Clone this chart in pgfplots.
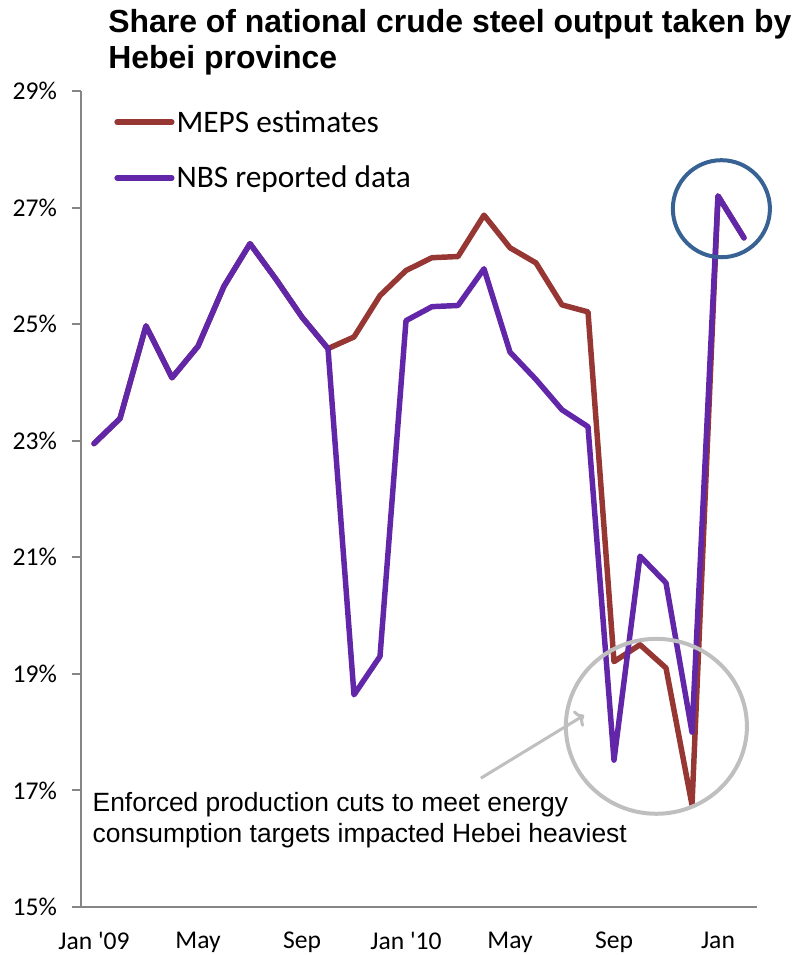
\documentclass[border=0pt]{standalone}
\usepackage{fontspec}
\usepackage{pgfplots}
\pgfplotsset{compat=1.18}
\usetikzlibrary{arrows.meta}
\setmainfont{Liberation Sans}
\newfontfamily\carlito{Carlito}
\newcommand\tickfont{\carlito\fontsize{19.2}{22}\selectfont}
\definecolor{mepsred}{RGB}{150,55,52}
\definecolor{nbspurple}{RGB}{98,38,168}
\definecolor{axisgray}{RGB}{134,134,134}
\definecolor{ringblue}{RGB}{56,98,148}
\definecolor{ringgray}{RGB}{191,191,191}

% Monthly share (%) of national crude steel output, Jan 2009 = 0 ... Feb 2011 = 25
\pgfplotstableread{
m   share
0   22.95
1   23.38
2   24.97
3   24.08
4   24.62
5   25.65
6   26.38
7   25.77
8   25.12
9   24.58
10  24.78
11  25.49
12  25.92
13  26.14
14  26.16
15  26.87
16  26.31
17  26.05
18  25.33
19  25.21
20  19.21
21  19.50
22  19.10
23  16.75
24  27.20
25  26.48
}\meps
\pgfplotstableread{
m   share
0   22.95
1   23.38
2   24.97
3   24.08
4   24.62
5   25.65
6   26.38
7   25.77
8   25.12
9   24.58
10  18.64
11  19.30
12  25.06
13  25.30
14  25.32
15  25.95
16  24.52
17  24.05
18  23.53
19  23.24
20  17.52
21  21.02
22  20.56
23  18.00
24  27.20
25  26.48
}\nbs

\begin{document}
\begin{tikzpicture}
\begin{axis}[
  name=ax,
  scale only axis, width=507pt, height=612pt,
  xmin=-0.5, xmax=25.5, ymin=15, ymax=29,
  axis lines=left,
  axis line style={axisgray, line width=1.5pt, -},
  tick align=outside,
  xtick={0,4,...,24},
  xticklabels={Jan '09, May, Sep, Jan '10, May, Sep, Jan},
  xtick style={draw=none},
  minor xtick={-0.5,0.5,...,25.5},
  minor tick length=6pt,
  minor x tick style={axisgray, line width=1.5pt},
  ytick={15,17,...,29},
  yticklabels={15\%,17\%,19\%,21\%,23\%,25\%,27\%,29\%},
  ytick style={axisgray, line width=1.5pt},
  major tick length=6.5pt,
  tick label style={font=\tickfont, text=black},
  xticklabel style={yshift=-9pt},
  yticklabel style={xshift=-8pt},
  clip=false,
  legend style={at={(axis description cs:0.049,0.979)}, anchor=north west,
    draw=none, fill=none, inner sep=0pt, row sep=21pt,
    font=\carlito\fontsize{23.5}{27}\selectfont,
    nodes={inner sep=1.5pt}},
  legend cell align=left,
  legend image code/.code={\draw[#1] (0pt,0pt) -- (41pt,0pt);},
  every axis plot/.append style={line width=4.1pt, line join=round, line cap=round},
]
\addplot[mepsred] table[x=m, y=share] {\meps};
\addlegendentry{MEPS estimates}
\addplot[nbspurple] table[x=m, y=share] {\nbs};
\addlegendentry{NBS reported data}

% highlight rings and callout
\draw[ringblue, line width=3pt] (axis cs:24.13,26.98) circle[radius=36.4pt];
\draw[ringgray, line width=3pt] (axis cs:21.63,18.10) ellipse[x radius=67.9pt, y radius=65.6pt];
\draw[ringgray, line width=2.25pt, -{To[length=6pt,width=14pt]}] (axis cs:14.88,17.21) -- (axis cs:18.85,18.29);

\node[anchor=base west, inner sep=0pt, font=\fontsize{19.8}{23}\selectfont] at (axis cs:-0.06,16.63) {Enforced production cuts to meet energy};
\node[anchor=base west, inner sep=0pt, font=\fontsize{19.8}{23}\selectfont] at (axis cs:-0.06,16.10) {consumption targets impacted Hebei heaviest};

% chart title
\node[anchor=base west, inner sep=0pt, font=\bfseries\fontsize{23.95}{28}\selectfont] at (axis cs:0.54,30.0) {Share of national crude steel output taken by};
\node[anchor=base west, inner sep=0pt, font=\bfseries\fontsize{23.95}{28}\selectfont] at (axis cs:0.54,29.39) {Hebei province};
\end{axis}
\pgfresetboundingbox
\path[use as bounding box] ([xshift=-60.75pt,yshift=-36pt]ax.south west) rectangle ([xshift=28.5pt,yshift=68.25pt]ax.north east);
\end{tikzpicture}
\end{document}
